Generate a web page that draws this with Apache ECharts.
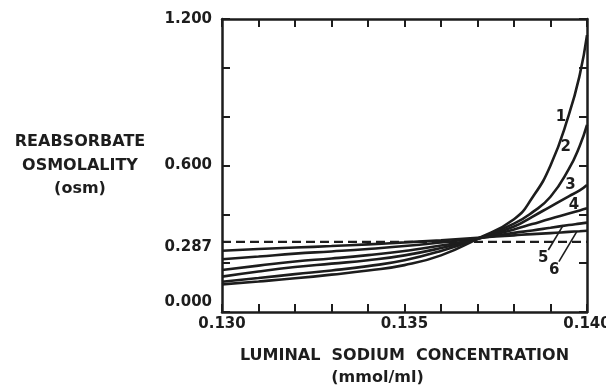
<!DOCTYPE html>
<html>
<head>
<meta charset="utf-8">
<style>
  html, body { margin: 0; padding: 0; background: #fff; }
  #chart { width: 606px; height: 386px; }
</style>
<script src="https://cdn.jsdelivr.net/npm/echarts@6/dist/echarts.min.js"></script>
</head>
<body>
<div id="chart"></div>
<script>
// luminal sodium (mmol/ml) where the curves were read
var xs = [0.130, 0.131, 0.132, 0.133, 0.134, 0.135, 0.136, 0.137, 0.138, 0.1385, 0.139, 0.1395, 0.1398, 0.140];

// reabsorbate osmolality (osm), curves 1..6
var curve1 = [0.113, 0.125, 0.138, 0.153, 0.170, 0.192, 0.232, 0.300, 0.380, 0.468, 0.600, 0.806, 0.970, 1.134];
var curve2 = [0.124, 0.139, 0.155, 0.170, 0.188, 0.212, 0.250, 0.300, 0.362, 0.408, 0.472, 0.585, 0.680, 0.766];
var curve3 = [0.145, 0.166, 0.184, 0.198, 0.212, 0.232, 0.262, 0.299, 0.350, 0.390, 0.432, 0.474, 0.498, 0.520];
var curve4 = [0.172, 0.190, 0.207, 0.219, 0.233, 0.250, 0.272, 0.300, 0.338, 0.360, 0.382, 0.403, 0.416, 0.425];
var curve5 = [0.216, 0.227, 0.239, 0.248, 0.258, 0.270, 0.285, 0.302, 0.324, 0.334, 0.345, 0.356, 0.362, 0.366];
var curve6 = [0.251, 0.258, 0.264, 0.270, 0.277, 0.285, 0.294, 0.304, 0.314, 0.319, 0.323, 0.328, 0.331, 0.333];
var curveNames = ['1', '2', '3', '4', '5', '6'];

var refValue = 0.287;

var xTicks = [0.130, 0.131, 0.132, 0.133, 0.134, 0.135, 0.136, 0.137, 0.138, 0.139, 0.140];
var xLabels = [0.130, 0.135, 0.140];
var yTicks = [0, 0.2, 0.4, 0.6, 0.8, 1.0, 1.2];
var yLabels = [0, 0.287, 0.6, 1.2];

// where the curve numbers sit (data units) and the two leader lines
var namePos = [[0.13929, 0.800], [0.13942, 0.677], [0.13955, 0.520], [0.13964, 0.438], [0.13880, 0.220], [0.13910, 0.172]];
var leaders = {
    4: [[0.13894, 0.254], [0.13935, 0.356]],
    5: [[0.13923, 0.206], [0.13972, 0.329]]
};

var ink = '#1d1d1d';
var font = 'DejaVu Sans';

var dom = document.getElementById('chart');
var myChart = echarts.init(dom);

var curves = [curve1, curve2, curve3, curve4, curve5, curve6];

var series = curves.map(function(c, i) {
    var s = {
        type: 'line',
        data: xs.map(function(x, j) { return [x, c[j]]; }),
        smooth: 0.5,
        showSymbol: false,
        silent: true,
        lineStyle: { color: ink, width: 2.6 },
        markPoint: {
            symbol: 'circle',
            symbolSize: 0,
            silent: true,
            label: {
                show: true,
                position: 'inside',
                formatter: curveNames[i],
                color: ink,
                fontFamily: font,
                fontWeight: 'bold',
                fontSize: 15
            },
            data: [{ coord: namePos[i] }]
        }
    };
    if (leaders[i]) {
        s.markLine = {
            symbol: 'none',
            silent: true,
            label: { show: false },
            lineStyle: { color: ink, width: 1.6, type: 'solid' },
            data: [[{ coord: leaders[i][0] }, { coord: leaders[i][1] }]]
        };
    }
    return s;
});

series.push({
    type: 'line',
    data: [[xs[0], refValue], [xs[xs.length - 1], refValue]],
    showSymbol: false,
    silent: true,
    lineStyle: { color: ink, width: 2.4, type: [9, 5] }
});

var tickStyle = { color: ink, width: 2 };
var labelStyle = { color: ink, fontFamily: font, fontWeight: 'bold', fontSize: 15 };

var option = {
    backgroundColor: '#fff',
    animation: false,
    grid: { left: 222, right: 19, top: 19, bottom: 74, outerBoundsMode: 'none' },
    xAxis: [{
        type: 'value',
        min: 0.130,
        max: 0.140,
        position: 'bottom',
        name: 'LUMINAL  SODIUM  CONCENTRATION\n{u|(mmol/ml)}',
        nameLocation: 'middle',
        nameGap: 33,
        nameMoveOverlap: false,
        nameTextStyle: {
            color: ink, fontFamily: font, fontWeight: 'bold', fontSize: 16, lineHeight: 22,
            rich: { u: { color: ink, fontFamily: font, fontWeight: 'bold', fontSize: 16, lineHeight: 22, padding: [0, 54, 0, 0] } }
        },
        axisLine: { show: true, onZero: false, lineStyle: { color: ink, width: 2.5 } },
        axisTick: { show: true, inside: true, length: 8, customValues: xTicks, lineStyle: tickStyle },
        axisLabel: Object.assign({ customValues: xLabels, margin: 5, formatter: function(v) { return v.toFixed(3); } }, labelStyle),
        splitLine: { show: false }
    }, {
        type: 'value',
        min: 0.130,
        max: 0.140,
        position: 'top',
        axisLine: { show: true, onZero: false, lineStyle: { color: ink, width: 2.5 } },
        axisTick: { show: true, inside: true, length: 8, customValues: xTicks, lineStyle: tickStyle },
        axisLabel: { show: false },
        splitLine: { show: false }
    }],
    yAxis: [{
        type: 'value',
        min: 0,
        max: 1.2,
        position: 'left',
        name: 'REABSORBATE\nOSMOLALITY\n(osm)',
        nameLocation: 'middle',
        nameRotate: 0,
        nameGap: 142,
        nameMoveOverlap: false,
        nameTextStyle: { color: ink, fontFamily: font, fontWeight: 'bold', fontSize: 16, lineHeight: 23.5, align: 'center', verticalAlign: 'middle' },
        axisLine: { show: true, onZero: false, lineStyle: { color: ink, width: 2.5 } },
        axisTick: { show: true, inside: true, length: 8, customValues: yTicks, lineStyle: tickStyle },
        axisLabel: Object.assign({
            customValues: yLabels,
            margin: 10,
            lineHeight: 10,
            formatter: function(v) {
                var t = v.toFixed(3);
                if (v === 0) return t + '\n\n';
                if (v === refValue) return '\n' + t;
                return t;
            }
        }, labelStyle),
        splitLine: { show: false }
    }, {
        type: 'value',
        min: 0,
        max: 1.2,
        position: 'right',
        axisLine: { show: true, onZero: false, lineStyle: { color: ink, width: 2.5 } },
        axisTick: { show: true, inside: true, length: 8, customValues: yTicks, lineStyle: tickStyle },
        axisLabel: { show: false },
        splitLine: { show: false }
    }],
    series: series
};

myChart.setOption(option);

window.addEventListener('resize', function() {
    myChart.resize();
});
</script>
</body>
</html>
